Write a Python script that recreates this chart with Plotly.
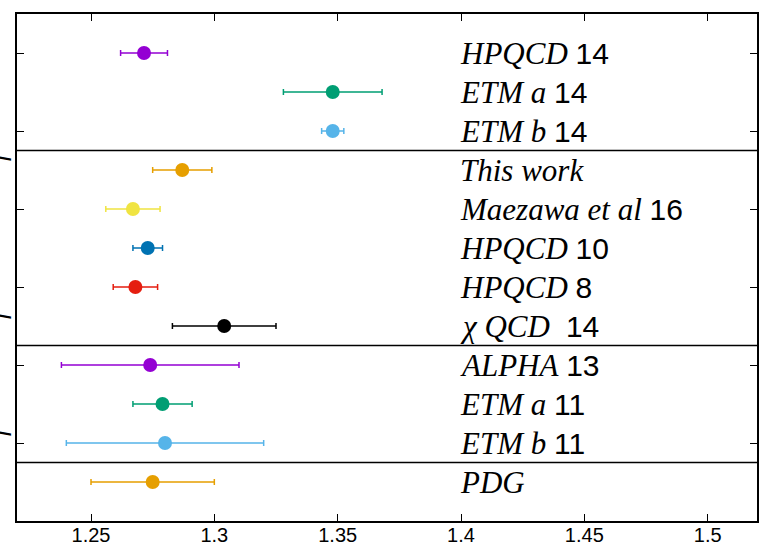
import plotly.graph_objects as go

# data: charm quark mass results, top to bottom
names = ["HPQCD", "ETM <i>a</i>", "ETM <i>b</i>",
         "This work", "Maezawa et al", "HPQCD", "HPQCD", "χ QCD",
         "ALPHA", "ETM <i>a</i>", "ETM <i>b</i>",
         "PDG"]
years = ["14", "14", "14", "", "16", "10", "8", "&nbsp;14", "13", "11", "11", ""]
rows = [11, 10, 9, 8, 7, 6, 5, 4, 3, 2, 1, 0]
values = [1.2715, 1.348, 1.348, 1.287, 1.267, 1.273, 1.268, 1.304, 1.274, 1.279, 1.280, 1.275]
errors = [0.0095, 0.020, 0.0045, 0.012, 0.011, 0.006, 0.009, 0.021, 0.036, 0.012, 0.040, 0.025]
colors = ["#9400d3", "#009e73", "#56b4e9", "#e69f00", "#f0e442", "#0072b2", "#e51e10", "#000000",
          "#9400d3", "#009e73", "#56b4e9", "#e69f00"]
separators = [8.5, 3.5, 0.5]
side_rows = [8.38, 4.33, 1.33]

fig = go.Figure()

for v, e, r, c in zip(values, errors, rows, colors):
    fig.add_trace(go.Scatter(
        x=[v], y=[r], mode="markers",
        marker=dict(size=14, color=c),
        error_x=dict(type="data", array=[e], color=c, thickness=1.5, width=3),
        showlegend=False
    ))

# labels on the right
for n, yr, r in zip(names, years, rows):
    txt = "<i>" + n + "</i>"
    if yr:
        txt += " <span style='font-family:Liberation Sans, Arial;font-size:30px'>" + yr + "</span>"
    fig.add_annotation(x=1.4, y=r, xref="x", yref="y", text=txt, showarrow=False,
                       xanchor="left", yanchor="middle", xshift=-3,
                       font=dict(family="Liberation Serif, Times New Roman", size=31, color="black"))

# group separators
for s in separators:
    fig.add_shape(type="line", xref="paper", x0=0, x1=1, yref="y", y0=s, y1=s,
                  line=dict(color="black", width=1.3))

# clipped side labels at the left edge
for r in side_rows:
    fig.add_annotation(x=-0.030, y=r, xref="paper", yref="y", text="<i>f</i>", showarrow=False,
                       textangle=-90, xanchor="center", yanchor="middle",
                       font=dict(family="Liberation Serif", size=28, color="black"))

fig.update_xaxes(range=[1.22, 1.52], tickvals=[1.25, 1.3, 1.35, 1.4, 1.45, 1.5],
                 ticktext=["1.25", "1.3", "1.35", "1.4", "1.45", "1.5"],
                 ticks="inside", ticklen=7, tickcolor="black", mirror="ticks",
                 showline=True, linecolor="black", linewidth=1.5,
                 showgrid=False, zeroline=False, ticklabelstandoff=-5,
                 tickfont=dict(family="Liberation Sans, Arial", size=20, color="black"))
fig.update_yaxes(range=[-1, 12], tickvals=[11, 9, 7, 5, 3, 1], showticklabels=False,
                 ticks="inside", ticklen=7, tickcolor="black", mirror="ticks",
                 showline=True, linecolor="black", linewidth=1.5,
                 showgrid=False, zeroline=False)

fig.update_layout(
    width=778, height=545,
    margin=dict(l=17, r=21, t=14, b=24, autoexpand=False),
    plot_bgcolor="white", paper_bgcolor="white",
)

# drop the default page margin so the figure sits at the window corner
fig.write_html("out.html", config={"displayModeBar": False},
               post_script="document.body.style.margin='0';")
